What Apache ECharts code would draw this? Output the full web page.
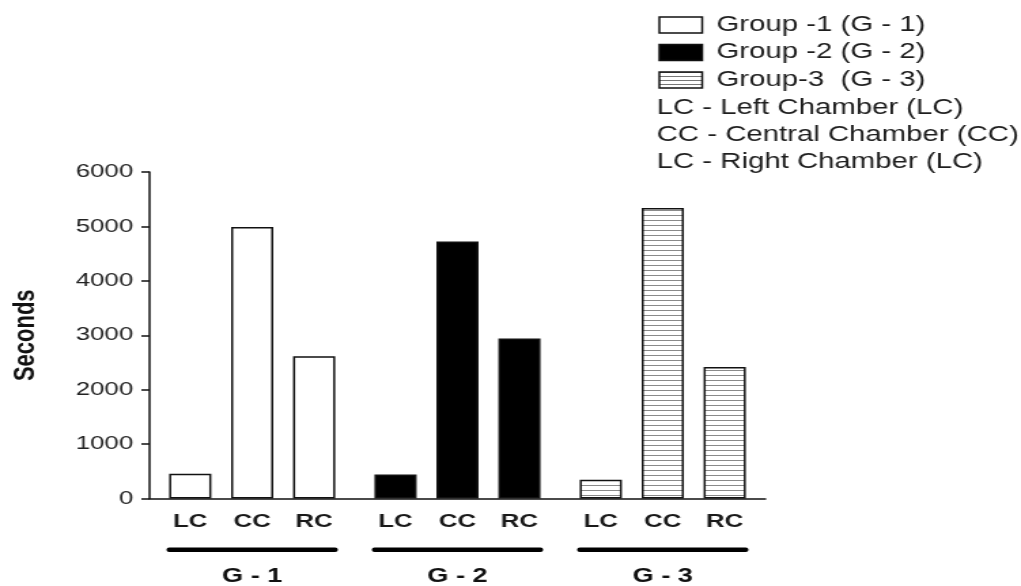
<!DOCTYPE html>
<html>
<head>
<meta charset="utf-8">
<script src="https://cdn.jsdelivr.net/npm/echarts@6/dist/echarts.min.js"></script>
<style>
  html, body { margin: 0; padding: 0; background: #fff; overflow: hidden; }
  #wrap { width: 1021px; height: 586px; overflow: hidden; }
  #chart { width: 751px; height: 586px; transform: scaleX(1.3595); transform-origin: 0 0; }
</style>
</head>
<body>
<div id="wrap"><div id="chart"></div></div>
<script>
// ---- data ----
const groups = ['G - 1', 'G - 2', 'G - 3'];
const chambers = ['LC', 'CC', 'RC'];
const lcValues = [455, 440, 345];
const ccValues = [4990, 4725, 5340];
const rcValues = [2615, 2940, 2415];
const yTicks = [0, 1000, 2000, 3000, 4000, 5000, 6000];
const legendGroups = ['Group -1 (G - 1)', 'Group -2 (G - 2)', 'Group-3  (G - 3)'];
const legendNotes = ['LC - Left Chamber (LC)', 'CC - Central Chamber (CC)', 'LC - Right Chamber (LC)'];

// stripe pattern for group 3
function stripeCanvas() {
  const c = document.createElement('canvas');
  c.width = 4; c.height = 5;
  const ctx = c.getContext('2d');
  ctx.fillStyle = '#ffffff';
  ctx.fillRect(0, 0, 4, 5);
  ctx.fillStyle = '#8a8a8a';
  ctx.fillRect(0, 0, 4, 1);
  return c;
}
const stripe = { image: stripeCanvas(), repeat: 'repeat' };
const legStripe = (function () {
  const c = document.createElement('canvas');
  c.width = 4; c.height = 4;
  const ctx = c.getContext('2d');
  ctx.fillStyle = '#ffffff'; ctx.fillRect(0, 0, 4, 4);
  ctx.fillStyle = '#777'; ctx.fillRect(0, 0, 4, 1);
  return { image: c, repeat: 'repeat' };
})();

const groupFills = ['#ffffff', '#000000', stripe];
const legendFills = ['#ffffff', '#000000', legStripe];
const FONT = 'Liberation Sans, Arial, sans-serif';

function buildSeries(name, values) {
  return {
    name: name,
    type: 'bar',
    barWidth: 31,
    barGap: '47%',
    data: values.map((v, i) => ({
      value: v,
      itemStyle: { color: groupFills[i], borderColor: '#111', borderWidth: 1.5 }
    })),
    label: {
      show: true,
      position: 'bottom',
      distance: 14,
      formatter: '{a}',
      fontFamily: FONT,
      fontWeight: 'bold',
      fontSize: 19,
      color: '#1a1a1a'
    },
    silent: true,
    animation: false
  };
}

const graphics = [];
legendGroups.forEach((t, i) => {
  const cy = 25 + i * 27.5;
  graphics.push({
    type: 'rect', x: 485, y: cy - 8,
    shape: { width: 31.5, height: 16 },
    style: { fill: legendFills[i], stroke: '#111', lineWidth: 1.5 }
  });
  graphics.push({
    type: 'text', x: 527, y: cy,
    style: { text: t, fill: '#1e1e1e', font: '21.6px ' + FONT, verticalAlign: 'middle' }
  });
});
legendNotes.forEach((t, i) => {
  const cy = 108 + i * 27.2;
  graphics.push({
    type: 'text', x: 483, y: cy,
    style: { text: t, fill: '#1e1e1e', font: '21.6px ' + FONT, verticalAlign: 'middle' }
  });
});

const chart = echarts.init(document.getElementById('chart'), null, { renderer: 'canvas' });
chart.setOption({
  animation: false,
  backgroundColor: '#fff',
  grid: { left: 109, right: 188, top: 172, bottom: 84 },
  xAxis: {
    type: 'category',
    data: groups,
    axisLine: { lineStyle: { color: '#111', width: 1.5 } },
    axisTick: { show: false },
    axisLabel: {
      interval: 0,
      margin: 49,
      formatter: v => '{bar|}\n{name|' + v + '}',
      rich: {
        bar: { width: 126, height: 4.5, lineHeight: 4.5, backgroundColor: '#000', borderRadius: 2 },
        name: { lineHeight: 48, fontSize: 20, fontWeight: 'bold', fontFamily: FONT, color: '#111' }
      }
    }
  },
  yAxis: {
    type: 'value',
    min: yTicks[0],
    max: yTicks[yTicks.length - 1],
    interval: 1000,
    name: 'Seconds',
    nameLocation: 'middle',
    nameGap: 80,
    nameTextStyle: { fontFamily: FONT, fontWeight: 'bold', fontSize: 22, color: '#111' },
    axisLine: { show: true, lineStyle: { color: '#111', width: 1.5 } },
    axisTick: { show: true, length: 6, lineStyle: { color: '#111', width: 1.5 } },
    splitLine: { show: false },
    axisLabel: {
      margin: 12, fontFamily: FONT, fontSize: 19, color: '#222',
      formatter: v => String(v)
    }
  },
  series: [
    buildSeries(chambers[0], lcValues),
    buildSeries(chambers[1], ccValues),
    buildSeries(chambers[2], rcValues)
  ],
  graphic: graphics
});
</script>
</body>
</html>
